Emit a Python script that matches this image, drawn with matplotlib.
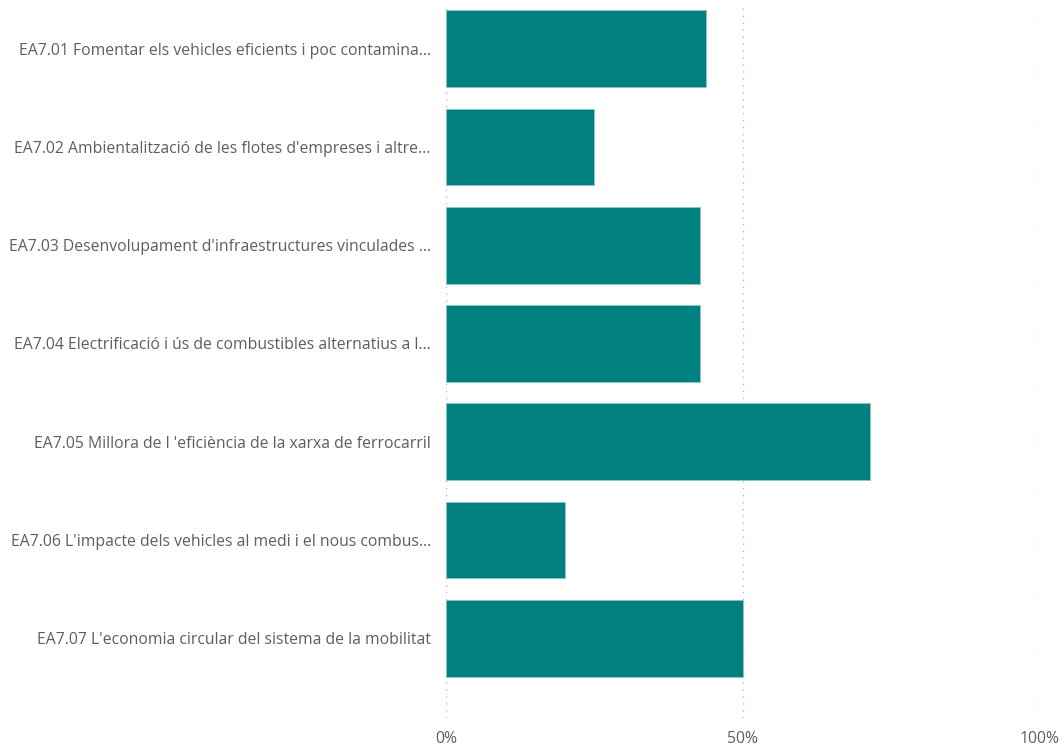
import matplotlib.pyplot as plt
from matplotlib.ticker import PercentFormatter

# Data
categories = [
    "EA7.01 Fomentar els vehicles eficients i poc contamina...",
    "EA7.02 Ambientalització de les flotes d'empreses i altre...",
    "EA7.03 Desenvolupament d'infraestructures vinculades ...",
    "EA7.04 Electrificació i ús de combustibles alternatius a l...",
    "EA7.05 Millora de l 'eficiència de la xarxa de ferrocarril",
    "EA7.06 L'impacte dels vehicles al medi i el nous combus...",
    "EA7.07 L'economia circular del sistema de la mobilitat",
]
values = [43.75, 25.0, 42.86, 42.86, 71.43, 20.0, 50.0]
x_ticks = [0, 50, 100]

plt.rcParams['font.family'] = ['Open Sans', 'DejaVu Sans']

fig = plt.figure(figsize=(10.62, 7.46), dpi=100)
ax = fig.add_axes([0.42, 0.0375, 0.559, 0.958])

pos = list(range(len(categories)))
ax.barh(pos, values, height=0.78, color='#008080', edgecolor='#8fc4c4',
        linewidth=0.6, zorder=3)

ax.set_xlim(0, 100)
ax.set_ylim(6.81, -0.46)
ax.set_yticks(pos)
ax.set_yticklabels(categories, fontsize=11.3, color='#605e5c')
ax.set_xticks(x_ticks)
ax.xaxis.set_major_formatter(PercentFormatter(decimals=0))
ax.tick_params(axis='x', labelsize=11.3, labelcolor='#605e5c', length=0, pad=9)
ax.tick_params(axis='y', length=0, pad=11)

ax.grid(axis='x', linestyle=(0, (1, 4)), color='#b8b8b8', linewidth=1.0, zorder=0)
for s in ax.spines.values():
    s.set_visible(False)

fig.savefig('out.png', dpi=100)
